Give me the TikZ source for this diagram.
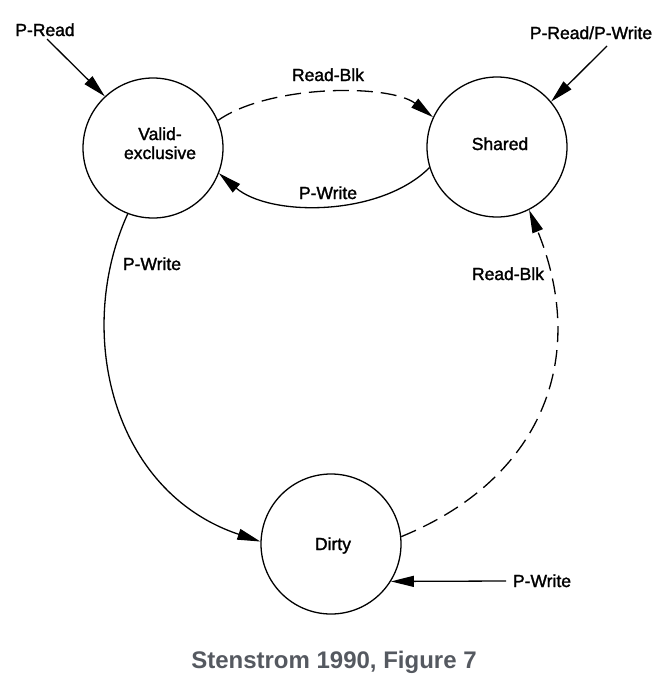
\documentclass[tikz,border=0pt]{standalone}
\usepackage{fontspec}
\setmainfont{Liberation Sans}
\newfontfamily\diagfont[FakeBold=1.6]{Liberation Sans}
\usetikzlibrary{arrows.meta}
\definecolor{capgray}{RGB}{85,89,96}
\begin{document}
\begin{tikzpicture}[x=1pt,y=-1pt,
  state/.style={circle,draw,line width=1.3pt,minimum size=140pt,inner sep=0pt},
  lbl/.style={font=\diagfont\fontsize{17.5}{20}\selectfont,anchor=base,inner sep=0pt},
  tr/.style={line width=1.3pt,-{Triangle[length=23pt,width=11pt]}},
  dsh/.style={dash pattern=on 16pt off 8pt}]
\useasboundingbox (0,0) rectangle (664,691);
% states
\node[state] (ve) at (153,148) {};
\node[state] (sh) at (497,147) {};
\node[state] (di) at (331,544) {};
\node[lbl] (vet1) at (160,140) {Valid-};
\node[lbl] (vet2) at (160,159) {exclusive};
\node[lbl] (sht) at (500,150) {Shared};
\node[lbl] (dit) at (333,550) {Dirty};
% external inputs
\coordinate (pr) at (47,39);
\coordinate (prw) at (607,46);
\coordinate (pw) at (506,581);
\draw[tr] (pr) -- (ve.133);
\draw[tr] (prw) -- (sh.40);
\draw[tr] (pw) -- (di.-32);
% transitions
\draw[tr,dsh] (ve.23) .. controls (270,84) and (390,84) .. (sh.155);
\draw[tr] (sh.197) .. controls (380,217) and (270,217) .. (ve.-21);
\draw[tr] (ve.-111) .. controls (74,332) and (112,492) .. (di.178);
\draw[tr,dsh] (di.6) .. controls (540,480) and (590,360) .. (sh.-63);
% labels
\node[lbl] (l1) at (45,36) {P-Read};
\node[lbl] (l2) at (591,39) {P-Read/P-Write};
\node[lbl] (l3) at (328,81) {Read-Blk};
\node[lbl] (l4) at (328,199) {P-Write};
\node[lbl] (l5) at (152,270) {P-Write};
\node[lbl] (l6) at (508,280) {Read-Blk};
\node[lbl] (l7) at (542,587) {P-Write};
\node[font=\bfseries\fontsize{24}{28}\selectfont,text=capgray,anchor=base,inner sep=0pt] (cap) at (334,668) {Stenstrom 1990, Figure 7};
\end{tikzpicture}
\end{document}
